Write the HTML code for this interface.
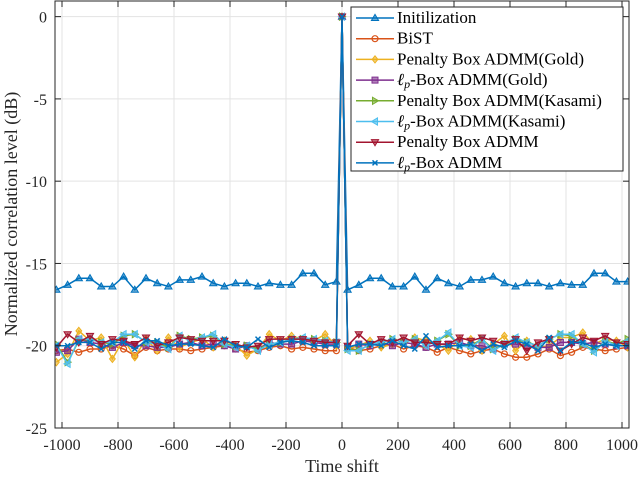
<!DOCTYPE html>
<html><head><meta charset="utf-8"><style>
body{margin:0;background:#fff;}
svg{display:block;font-family:"Liberation Serif",serif;}
</style></head><body>
<svg id="chart" width="640" height="478">
<defs><clipPath id="pc"><rect x="55" y="1" width="574" height="427"/></clipPath></defs>
<rect width="640" height="478" fill="#fff"/>
<g id="grid"></g><g id="series" clip-path="url(#pc)"></g><g id="axes"></g><g id="legend"></g>
</svg>
<script>
const xTicks=[-1000,-800,-600,-400,-200,0,200,400,600,800,1000];
const yTicks=[0,-5,-10,-15,-20,-25];
const seriesNames=["Initilization","BiST","Penalty Box ADMM(Gold)","ℓp-Box ADMM(Gold)","Penalty Box ADMM(Kasami)","ℓp-Box ADMM(Kasami)","Penalty Box ADMM","ℓp-Box ADMM"];
const initVals=[-16.6,-16.3,-15.9,-15.9,-16.4,-16.4,-15.8,-16.6,-15.9,-16.2,-16.4,-16.0,-16.0,-15.8,-16.2,-16.4,-16.2,-16.2,-16.4,-16.2,-16.3,-16.3,-15.6,-15.6,-16.3,-16.1,0,-16.6,-16.3,-15.9,-15.9,-16.4,-16.4,-15.8,-16.6,-15.9,-16.2,-16.4,-16.0,-16.0,-15.8,-16.2,-16.4,-16.2,-16.2,-16.4,-16.2,-16.3,-16.3,-15.6,-15.6,-16.1,-16.1,-16.6];
const bistVals=[-20.3,-20.2,-20.4,-20.2,-20.2,-20.0,-20.2,-20.6,-20.1,-20.3,-20.2,-20.2,-20.3,-20.2,-20.1,-20.0,-20.2,-20.4,-20.3,-20.1,-20.0,-20.2,-20.1,-20.2,-20.3,-20.3,0,-20.1,-20.3,-20.2,-20.0,-19.9,-20.2,-20.0,-20.1,-20.4,-20.1,-20.3,-20.5,-20.3,-20.2,-20.5,-20.7,-20.7,-20.5,-20.2,-20.6,-20.4,-20.1,-20.2,-20.3,-20.2,-20.1,-20.2];
const pbGoldVals=[-21.0,-20.5,-19.1,-19.7,-19.5,-20.8,-19.6,-20.7,-19.6,-20.3,-19.5,-20.1,-19.8,-19.6,-20.1,-19.7,-20.0,-20.6,-20.2,-19.3,-19.7,-19.4,-19.6,-19.7,-19.3,-20.0,0,-20.2,-20.0,-19.7,-20.1,-19.9,-19.8,-19.5,-19.7,-19.9,-20.3,-19.6,-19.6,-20.3,-19.9,-19.4,-20.3,-19.7,-20.1,-20.0,-19.5,-19.5,-19.2,-19.9,-19.6,-19.7,-20.1,-20.0];
const lpGoldVals=[-20.4,-20.3,-19.6,-19.8,-19.9,-20.1,-19.8,-20.0,-20.0,-20.1,-20.1,-19.9,-19.8,-20.0,-19.9,-20.0,-20.2,-20.0,-20.2,-19.8,-19.9,-19.9,-19.7,-19.8,-19.9,-19.9,0,-20.1,-19.9,-20.0,-19.8,-20.0,-19.8,-19.9,-20.1,-19.9,-19.9,-19.8,-20.0,-20.0,-20.2,-19.9,-19.9,-20.0,-20.1,-20.1,-19.8,-19.8,-19.9,-19.8,-19.9,-20.0,-20.0,-20.0];
const pbKasamiVals=[-19.9,-21.0,-19.7,-19.6,-19.8,-19.9,-19.4,-19.3,-19.8,-19.8,-20.1,-19.4,-19.6,-19.5,-19.4,-19.9,-20.0,-20.0,-20.2,-19.9,-19.8,-19.6,-19.6,-19.6,-19.7,-19.8,0,-20.2,-20.3,-19.9,-19.8,-19.6,-19.8,-19.6,-19.9,-19.7,-19.3,-20.0,-20.0,-19.6,-20.2,-19.9,-19.6,-19.8,-20.0,-19.6,-19.3,-19.4,-19.9,-20.3,-19.7,-19.9,-19.6,-19.7];
const lpKasamiVals=[-20.0,-21.1,-19.6,-19.6,-19.8,-19.8,-19.3,-19.3,-19.8,-19.9,-20.2,-19.4,-19.7,-19.5,-19.3,-19.9,-20.1,-20.0,-20.3,-19.9,-19.8,-19.6,-19.5,-19.6,-19.7,-19.8,0,-20.3,-20.3,-19.9,-19.8,-19.6,-19.8,-19.6,-20.0,-19.7,-19.2,-20.0,-20.1,-19.6,-20.3,-19.9,-19.5,-19.8,-20.0,-19.6,-19.3,-19.3,-19.9,-20.4,-19.7,-20.0,-19.7,-19.8];
const pbVals=[-20.1,-19.3,-19.8,-19.4,-19.9,-19.6,-19.7,-19.9,-19.5,-20.0,-19.8,-19.5,-19.6,-19.7,-19.7,-19.7,-19.9,-20.1,-20.0,-19.6,-19.6,-19.6,-19.6,-19.7,-19.8,-19.8,0,-20.0,-19.3,-19.9,-19.6,-19.8,-19.5,-19.8,-19.8,-19.9,-19.9,-19.5,-19.7,-19.5,-19.7,-19.9,-19.6,-20.3,-19.8,-19.6,-20.3,-19.9,-19.5,-19.7,-19.4,-19.8,-19.9,-20.1];
const lpVals=[-20.0,-20.0,-19.8,-19.8,-20.2,-19.8,-19.8,-20.2,-19.7,-19.7,-20.0,-19.9,-19.9,-20.0,-20.1,-19.6,-20.0,-20.1,-19.6,-20.1,-19.8,-19.7,-19.8,-20.0,-20.0,-20.0,0,-20.1,-19.9,-19.9,-20.0,-19.7,-20.0,-20.2,-19.4,-20.1,-20.0,-20.0,-19.9,-20.3,-19.9,-20.1,-19.7,-19.9,-20.3,-19.5,-20.3,-19.8,-19.8,-20.1,-19.9,-20.0,-20.0,-20.0];
const shifts=[];
for(let i=0;i<26;i++)shifts.push(-1020+40*i);
shifts.push(0);
for(let i=0;i<26;i++)shifts.push(20+40*i);

const L=55,R=629,T=1,B=428,X0=-1025,X1=1025,Y0=-25,Y1=0.95;
const sx=v=>L+(v-X0)/(X1-X0)*(R-L);
const sy=v=>B-(v-Y0)/(Y1-Y0)*(B-T);
const NS="http://www.w3.org/2000/svg";
function mk(tag,attrs,parent){const e=document.createElementNS(NS,tag);for(const k in attrs)e.setAttribute(k,attrs[k]);parent.appendChild(e);return e;}
const grid=document.getElementById('grid'),axes=document.getElementById('axes'),sg=document.getElementById('series'),lg=document.getElementById('legend');
xTicks.forEach(t=>{const l=mk('line',{x1:sx(t),x2:sx(t),y1:T,y2:B,stroke:'#e3e3e3','stroke-width':1},grid);

mk('line',{x1:sx(t),x2:sx(t),y1:B,y2:B-6,stroke:'#262626'},axes);
mk('line',{x1:sx(t),x2:sx(t),y1:T,y2:T+6,stroke:'#262626'},axes);
const tx=mk('text',{x:sx(t),y:B+22,'text-anchor':'middle','font-size':16,fill:'#262626'},axes);tx.textContent=t;
});
yTicks.forEach(t=>{const l=mk('line',{x1:L,x2:R,y1:sy(t),y2:sy(t),stroke:'#e3e3e3','stroke-width':1},grid);

mk('line',{x1:L,x2:L+6,y1:sy(t),y2:sy(t),stroke:'#262626'},axes);
mk('line',{x1:R,x2:R-6,y1:sy(t),y2:sy(t),stroke:'#262626'},axes);
const tx=mk('text',{x:L-8,y:sy(t)+6,'text-anchor':'end','font-size':16,fill:'#262626'},axes);tx.textContent=t;
});
const box=mk('rect',{x:L,y:T,width:R-L,height:B-T,fill:'none',stroke:'#262626','stroke-width':1},axes);

const xl=mk('text',{x:342,y:472,'text-anchor':'middle','font-size':18,fill:'#262626'},axes);xl.textContent='Time shift';

const yl=mk('text',{x:0,y:0,'text-anchor':'middle','font-size':18,fill:'#262626',transform:'translate(17,214) rotate(-90)'},axes);yl.textContent='Normalized correlation level (dB)';


const colors=['#0072BD','#D95319','#EDB120','#7E2F8E','#77AC30','#4DBEEE','#A2142F','#0072BD'];
const markers=['tu','o','d','s','tr','tl','td','x'];
const allVals=[initVals,bistVals,pbGoldVals,lpGoldVals,pbKasamiVals,lpKasamiVals,pbVals,lpVals];
function marker(type,x,y,c,p){const s=3.6;let e;
if(type==='o')e=mk('circle',{cx:x,cy:y,r:3,fill:'none',stroke:c,'stroke-width':1.2},p);
else if(type==='s')e=mk('rect',{x:x-3,y:y-3,width:6,height:6,fill:c,'fill-opacity':0.6,stroke:c},p);
else if(type==='x')e=mk('path',{d:`M${x-2.5},${y-2.5}L${x+2.5},${y+2.5}M${x-2.5},${y+2.5}L${x+2.5},${y-2.5}`,stroke:c,'stroke-width':1.5},p);
else{let pts;
if(type==='tu')pts=[[x,y-s],[x-s,y+s*0.7],[x+s,y+s*0.7]];
if(type==='td')pts=[[x,y+s],[x-s,y-s*0.7],[x+s,y-s*0.7]];
if(type==='tr')pts=[[x+s,y],[x-s*0.7,y-s],[x-s*0.7,y+s]];
if(type==='tl')pts=[[x-s,y],[x+s*0.7,y-s],[x+s*0.7,y+s]];
if(type==='d')pts=[[x,y-s],[x+s*0.8,y],[x,y+s],[x-s*0.8,y]];
e=mk('polygon',{points:pts.map(q=>q.join(',')).join(' '),fill:c,'fill-opacity':0.6,stroke:c},p);}
return e;}
allVals.forEach((vals,k)=>{const g=mk('g',{},sg);

const n=Math.min(vals.length,shifts.length);
let d='';for(let i=0;i<n;i++)d+=(i?'L':'M')+sx(shifts[i]).toFixed(1)+','+sy(vals[i]).toFixed(1);
const pl=mk('path',{d:d,fill:'none',stroke:colors[k],'stroke-width':1.5},g);

for(let i=0;i<n;i++){const m=marker(markers[k],sx(shifts[i]),sy(vals[i]),colors[k],g);
}});

const lb=mk('rect',{x:351,y:7,width:272,height:164,fill:'#fff',stroke:'#262626','stroke-width':1},lg);

const names=['Initilization','BiST','Penalty Box ADMM(Gold)','<tspan font-style="italic">ℓ<tspan font-size="12" dy="3">p</tspan></tspan><tspan dy="-3">-Box ADMM(Gold)</tspan>','Penalty Box ADMM(Kasami)','<tspan font-style="italic">ℓ<tspan font-size="12" dy="3">p</tspan></tspan><tspan dy="-3">-Box ADMM(Kasami)</tspan>','Penalty Box ADMM','<tspan font-style="italic">ℓ<tspan font-size="12" dy="3">p</tspan></tspan><tspan dy="-3">-Box ADMM</tspan>'];
names.forEach((n,k)=>{const y=18+k*20.7;const g=mk('g',{},lg);

mk('line',{x1:356,x2:394,y1:y,y2:y,stroke:colors[k],'stroke-width':1.5},g);
marker(markers[k],375,y,colors[k],g);
const t=mk('text',{x:397,y:y+5,'font-size':17,fill:'#000'},g);t.innerHTML=n;});
</script>
</body></html>
